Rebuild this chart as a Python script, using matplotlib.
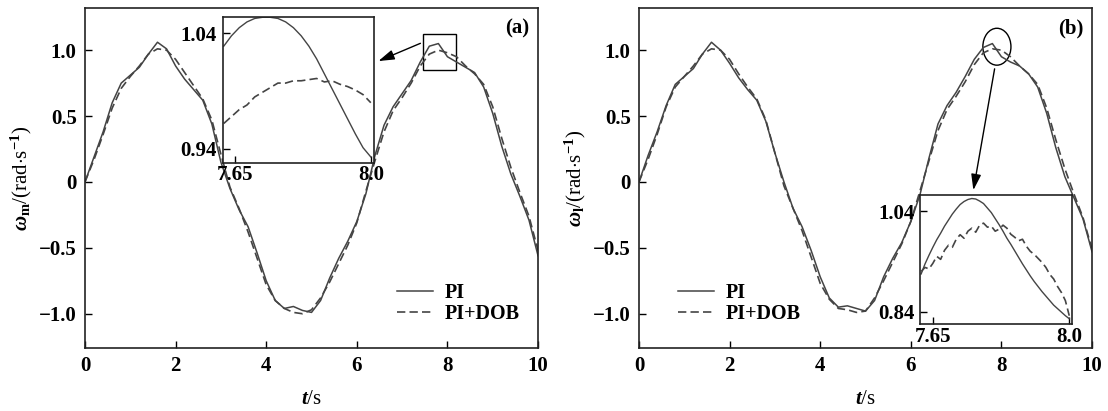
import numpy as np
import matplotlib
matplotlib.use("Agg")
from matplotlib import pyplot as plt
from matplotlib.patches import Rectangle, Ellipse

plt.rcParams['font.family'] = ['Liberation Serif', 'DejaVu Serif']
plt.rcParams['font.weight'] = 'bold'
plt.rcParams['mathtext.fontset'] = 'custom'
plt.rcParams['mathtext.rm'] = 'Liberation Serif:bold'
plt.rcParams['mathtext.it'] = 'Liberation Serif:italic:bold'
plt.rcParams['mathtext.bf'] = 'Liberation Serif:bold'

# main time grid, s
t = [0.0, 0.2, 0.4, 0.6, 0.8, 1.0, 1.2, 1.4, 1.6, 1.8,
     2.0, 2.2, 2.4, 2.6, 2.8, 3.0, 3.2, 3.4, 3.6, 3.8,
     4.0, 4.2, 4.4, 4.6, 4.8, 5.0, 5.2, 5.4, 5.6, 5.8,
     6.0, 6.2, 6.4, 6.6, 6.8, 7.0, 7.2, 7.4, 7.6, 7.8,
     8.0, 8.2, 8.4, 8.6, 8.8, 9.0, 9.2, 9.4, 9.6, 9.8, 10.0]

# (a) motor speed
wm_pi = [0.00, 0.19, 0.38, 0.60, 0.75, 0.81, 0.87, 0.97, 1.06, 1.01,
         0.88, 0.78, 0.70, 0.62, 0.44, 0.15, -0.05, -0.21, -0.34, -0.54,
         -0.75, -0.90, -0.96, -0.945, -0.975, -0.99, -0.90, -0.73, -0.58, -0.45,
         -0.30, -0.09, 0.20, 0.43, 0.57, 0.67, 0.77, 0.91, 1.03, 1.05,
         0.95, 0.91, 0.87, 0.83, 0.72, 0.52, 0.27, 0.06, -0.11, -0.29, -0.56]
wm_dob = [0.00, 0.17, 0.36, 0.56, 0.71, 0.80, 0.88, 0.97, 1.01, 1.00,
          0.93, 0.83, 0.73, 0.63, 0.47, 0.21, -0.04, -0.20, -0.38, -0.58,
          -0.78, -0.90, -0.96, -0.99, -1.00, -0.97, -0.88, -0.76, -0.62, -0.48,
          -0.31, -0.07, 0.16, 0.38, 0.54, 0.64, 0.75, 0.88, 0.97, 1.00,
          0.98, 0.95, 0.88, 0.82, 0.74, 0.57, 0.33, 0.11, -0.08, -0.26, -0.52]

# (b) load speed
wl_pi = [0.00, 0.20, 0.38, 0.58, 0.74, 0.80, 0.86, 0.97, 1.06, 1.00,
         0.90, 0.79, 0.70, 0.62, 0.46, 0.22, 0.00, -0.20, -0.34, -0.52,
         -0.72, -0.88, -0.95, -0.94, -0.96, -0.98, -0.90, -0.72, -0.58, -0.46,
         -0.30, -0.10, 0.18, 0.44, 0.58, 0.68, 0.80, 0.93, 1.02, 1.05,
         0.95, 0.91, 0.88, 0.82, 0.72, 0.52, 0.26, 0.04, -0.12, -0.28, -0.53]
wl_dob = [0.00, 0.17, 0.36, 0.57, 0.72, 0.80, 0.88, 0.97, 1.01, 1.00,
          0.93, 0.82, 0.72, 0.63, 0.47, 0.22, -0.03, -0.20, -0.37, -0.57,
          -0.77, -0.89, -0.96, -0.97, -0.99, -0.98, -0.88, -0.75, -0.61, -0.47,
          -0.30, -0.07, 0.16, 0.39, 0.55, 0.65, 0.76, 0.89, 0.98, 1.01,
          1.00, 0.95, 0.88, 0.82, 0.74, 0.56, 0.32, 0.10, -0.09, -0.27, -0.51]

# zoomed window 7.62 - 8.0 s
za_t = [7.62, 7.64, 7.66, 7.68, 7.70, 7.72, 7.74, 7.76, 7.78, 7.80,
        7.82, 7.84, 7.86, 7.88, 7.90, 7.92, 7.94, 7.96, 7.98, 8.00]
za_pi = [1.029, 1.038, 1.045, 1.050, 1.053, 1.054, 1.054, 1.053, 1.050, 1.045,
         1.038, 1.029, 1.018, 1.005, 0.992, 0.979, 0.966, 0.953, 0.941, 0.933]
za_dob = [0.962, 0.968, 0.974, 0.978, 0.985, 0.989, 0.993, 0.997, 0.997, 0.999,
          0.999, 1.000, 1.001, 0.998, 0.999, 0.996, 0.994, 0.991, 0.987, 0.980]

zb_t = [7.62, 7.63, 7.64, 7.65, 7.66, 7.67, 7.68, 7.69, 7.70, 7.71,
        7.72, 7.73, 7.74, 7.75, 7.76, 7.77, 7.78, 7.79, 7.80, 7.81,
        7.82, 7.83, 7.84, 7.85, 7.86, 7.87, 7.88, 7.89, 7.90, 7.91,
        7.92, 7.93, 7.94, 7.95, 7.96, 7.97, 7.98, 7.99, 8.00]
zb_pi = [0.915, 0.935, 0.952, 0.968, 0.983, 0.996, 1.010, 1.022, 1.034, 1.044,
         1.053, 1.059, 1.063, 1.065, 1.064, 1.060, 1.055, 1.046, 1.037, 1.025,
         1.013, 1.000, 0.986, 0.974, 0.961, 0.948, 0.935, 0.923, 0.911, 0.900,
         0.890, 0.880, 0.871, 0.862, 0.853, 0.846, 0.839, 0.832, 0.826]
zb_dob = [0.920, 0.928, 0.925, 0.936, 0.950, 0.944, 0.962, 0.972, 0.968, 0.984,
          0.993, 0.986, 1.000, 1.006, 0.998, 1.012, 1.016, 1.008, 1.010, 1.000,
          1.004, 1.012, 1.006, 0.994, 0.988, 0.981, 0.984, 0.970, 0.960, 0.954,
          0.946, 0.938, 0.928, 0.914, 0.905, 0.890, 0.878, 0.862, 0.832]

xticks = [0, 2, 4, 6, 8, 10]
yticks = [-1.0, -0.5, 0, 0.5, 1.0]
ytick_labels = ['\u22121.0', '\u22120.5', '0', '0.5', '1.0']

line_col = '#444444'
dash = (5, 2.5)

fig = plt.figure(figsize=(11.08, 4.11), dpi=100)
ax_a = fig.add_axes([0.0767, 0.1533, 0.4089, 0.8273])
ax_b = fig.add_axes([0.5767, 0.1533, 0.4089, 0.8273])


def style_main(ax, ylabel, tag, pi, dob, leg_x):
    ax.plot(t, pi, color=line_col, lw=1.1, label='PI')
    ax.plot(t, dob, color=line_col, lw=1.2, dashes=dash, label='PI+DOB')
    ax.set_xlim(0, 10)
    ax.set_ylim(-1.26, 1.32)
    ax.set_xticks(xticks)
    ax.set_xticklabels([str(v) for v in xticks])
    ax.set_yticks(yticks)
    ax.set_yticklabels(ytick_labels)
    ax.tick_params(direction='in', length=5, width=1, labelsize=15, pad=6)
    for s in ax.spines.values():
        s.set_linewidth(1.2)
        s.set_color('#222222')
    ax.set_xlabel(r'$t$/s', fontsize=15)
    ax.xaxis.set_label_coords(0.5, -0.125)
    ax.set_ylabel(ylabel, fontsize=15)
    ax.yaxis.set_label_coords(-0.113, 0.5)
    ax.text(0.954, 0.941, tag, transform=ax.transAxes, fontsize=15,
            ha='center', va='center')
    ax.legend(loc='upper left', bbox_to_anchor=(leg_x, 0.19), frameon=False,
              fontsize=14.5, handlelength=1.8, handletextpad=0.55,
              labelspacing=0.05, borderpad=0, borderaxespad=0)


def style_inset(ax, zt, pi, dob, ylim, yt):
    ax.plot(zt, pi, color=line_col, lw=1.0)
    ax.plot(zt, dob, color=line_col, lw=1.2, dashes=dash)
    ax.set_xlim(7.617, 8.007)
    ax.set_ylim(*ylim)
    ax.set_xticks([7.65, 8.0])
    ax.set_xticklabels(['7.65', '8.0'])
    ax.set_yticks(yt)
    ax.set_yticklabels(['%.2f' % v for v in yt])
    ax.tick_params(direction='in', length=5, width=1, labelsize=15, pad=2)
    ax.tick_params(axis='y', pad=4)
    for s in ax.spines.values():
        s.set_linewidth(1.2)
        s.set_color('#222222')


style_main(ax_a, r'$\omega_{\rm m}$/(rad$\cdot$s$^{-1}$)', '(a)', wm_pi, wm_dob, 0.689)
style_main(ax_b, r'$\omega_{\rm l}$/(rad$\cdot$s$^{-1}$)', '(b)', wl_pi, wl_dob, 0.086)

# zoom markers
ax_a.add_patch(Rectangle((7.46, 0.85), 0.73, 0.27, fill=False, ec='k', lw=1.0))
ax_a.annotate('', xy=(6.42, 0.909), xytext=(7.46, 1.06),
              arrowprops=dict(arrowstyle='-|>,head_length=0.8,head_width=0.25',
                              color='k', lw=1.0, mutation_scale=12))
ax_b.add_patch(Ellipse((7.90, 1.026), 0.62, 0.28, fill=False, ec='k', lw=1.0))
ax_b.annotate('', xy=(7.37, -0.083), xytext=(7.86, 0.879),
              arrowprops=dict(arrowstyle='-|>,head_length=0.8,head_width=0.25',
                              color='k', lw=1.0, mutation_scale=12))

ins_a = fig.add_axes([0.2009, 0.6041, 0.1362, 0.3538])
style_inset(ins_a, za_t, za_pi, za_dob, (0.928, 1.054), [0.94, 1.04])
ins_b = fig.add_axes([0.8303, 0.2117, 0.1372, 0.3139])
style_inset(ins_b, zb_t, zb_pi, zb_dob, (0.8155, 1.072), [0.84, 1.04])

plt.savefig('out.png', dpi=100)
